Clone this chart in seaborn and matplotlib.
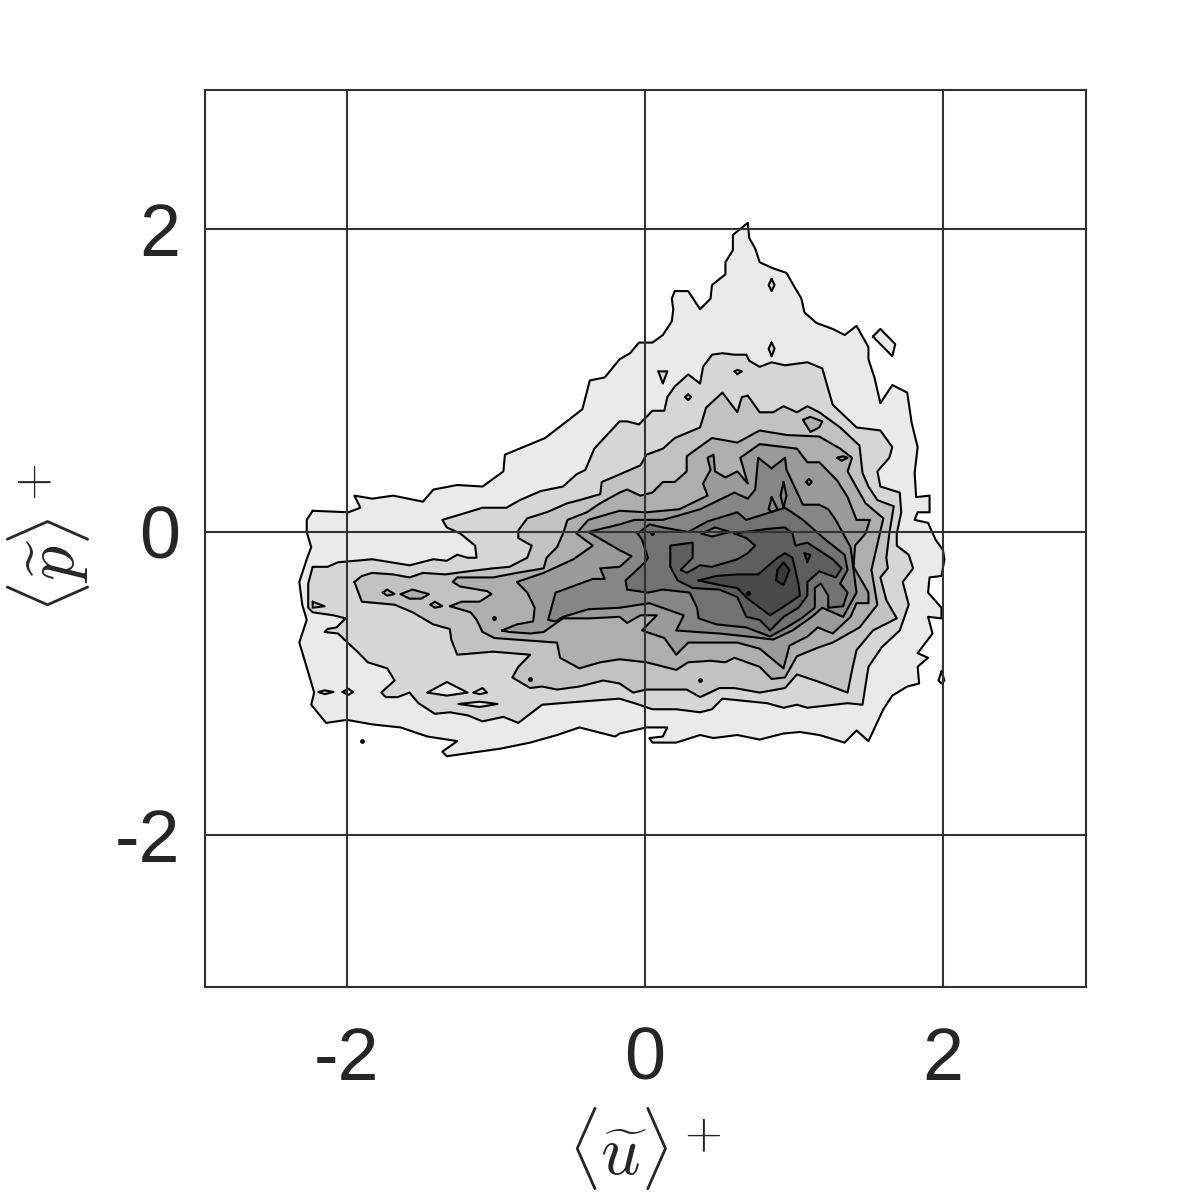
import numpy as np
import seaborn as sns
import matplotlib.pyplot as plt

# contour outlines, (u, p) pairs, outer level first
level1 = [(-2.23,.14),(-1.99,.13),(-1.91,.16),(-1.95,.24),(-1.83,.22),(-1.69,.24),(-1.49,.20),(-1.42,.28),(-1.26,.31),(-1.09,.30),(-.95,.40),(-.94,.51),(-.67,.62),(-.42,.81),(-.37,1.00),(-.27,1.02),(-.17,1.14),(-.10,1.18),(-.04,1.25),(.05,1.25),(.12,1.30),(.18,1.39),(.19,1.47),(.18,1.54),(.20,1.59),(.29,1.59),(.37,1.47),(.44,1.54),(.45,1.63),(.54,1.70),(.54,1.78),(.59,1.86),(.59,1.96),(.69,2.04),(.70,1.94),(.74,1.87),(.77,1.78),(.86,1.74),(.95,1.71),(.99,1.64),(1.05,1.54),(1.07,1.45),(1.15,1.38),(1.26,1.34),(1.34,1.30),(1.42,1.36),(1.50,1.22),(1.50,1.14),(1.54,1.02),(1.58,.85),(1.66,.97),(1.76,.92),(1.79,.72),(1.83,.56),(1.81,.39),(1.82,.23),(1.91,.24),(1.91,.13),(1.83,.13),(1.81,.08),(1.90,.06),(1.95,-.05),(2.00,-.12),(2.01,-.18),(1.99,-.29),(1.91,-.30),(1.90,-.40),(1.99,-.50),(1.99,-.57),(1.90,-.56),(1.93,-.67),(1.83,-.80),(1.90,-.83),(1.83,-.89),(1.84,-1.00),(1.76,-1.02),(1.66,-1.08),(1.60,-1.17),(1.50,-1.38),(1.42,-1.31),(1.34,-1.39),(1.17,-1.34),(1.04,-1.32),(.93,-1.33),(.77,-1.37),(.62,-1.34),(.46,-1.36),(.37,-1.34),(.21,-1.39),(.05,-1.39),(.03,-1.36),(.12,-1.35),(.15,-1.29),(.01,-1.29),(-.17,-1.33),(-.20,-1.35),(-.44,-1.29),(-.59,-1.34),(-.77,-1.39),(-.97,-1.43),(-1.33,-1.48),(-1.36,-1.45),(-1.26,-1.38),(-1.46,-1.35),(-1.52,-1.33),(-1.64,-1.29),(-1.83,-1.27),(-2.00,-1.24),(-2.14,-1.26),(-2.24,-1.14),(-2.22,-1.06),(-2.28,-.86),(-2.32,-.73),(-2.27,-.58),(-2.30,-.48),(-2.32,-.33),(-2.27,-.18),(-2.24,-.10),(-2.27,0),(-2.27,.08)]
level2 = [(-2.23,-.23),(-2.13,-.23),(-2.06,-.20),(-1.83,-.18),(-1.58,-.22),(-1.42,-.18),(-1.33,-.19),(-1.26,-.15),(-1.19,-.17),(-1.13,-.17),(-1.14,-.09),(-1.24,-.01),(-1.33,.03),(-1.36,.08),(-1.19,.13),(-1.09,.16),(-.93,.16),(-.84,.21),(-.70,.27),(-.55,.30),(-.46,.38),(-.40,.41),(-.34,.55),(-.17,.73),(-.12,.73),(-.04,.71),(.05,.80),(.13,.80),(.15,.89),(.20,.96),(.29,1.04),(.37,.98),(.39,1.09),(.45,1.17),(.52,1.18),(.60,1.17),(.68,1.17),(.70,1.13),(.77,1.09),(.85,1.12),(.94,1.10),(1.09,1.12),(1.19,1.08),(1.26,.84),(1.42,.69),(1.58,.67),(1.66,.56),(1.64,.49),(1.56,.40),(1.58,.30),(1.71,.26),(1.72,.13),(1.69,-.01),(1.69,-.09),(1.77,-.15),(1.80,-.24),(1.73,-.33),(1.77,-.48),(1.71,-.65),(1.59,-.76),(1.50,-.89),(1.46,-1.14),(1.36,-1.13),(1.09,-1.16),(1.02,-1.14),(.93,-1.16),(.82,-1.13),(.62,-1.11),(.52,-1.10),(.45,-1.17),(.37,-1.19),(.21,-1.17),(.05,-1.17),(-.07,-1.13),(-.17,-1.10),(-.44,-1.12),(-.69,-1.14),(-.85,-1.26),(-.95,-1.22),(-1.09,-1.25),(-1.19,-1.21),(-1.31,-1.19),(-1.41,-1.20),(-1.52,-1.13),(-1.58,-1.06),(-1.66,-1.09),(-1.74,-1.09),(-1.77,-1.06),(-1.68,-.98),(-1.73,-.90),(-1.86,-.86),(-1.93,-.79),(-2.06,-.67),(-2.15,-.66),(-2.13,-.64),(-2.07,-.63),(-2.01,-.57),(-2.09,-.55),(-2.23,-.53),(-2.26,-.50),(-2.26,-.34)]
level3 = [(-1.95,-.33),(-1.90,-.29),(-1.83,-.27),(-1.69,-.28),(-1.58,-.30),(-1.49,-.27),(-1.34,-.28),(-1.19,-.26),(-1.02,-.24),(-.91,-.23),(-.79,-.17),(-.76,-.09),(-.85,-.04),(-.85,.01),(-.79,.09),(-.66,.13),(-.52,.19),(-.44,.21),(-.30,.25),(-.29,.33),(-.17,.38),(-.03,.44),(.01,.51),(.12,.55),(.20,.62),(.37,.69),(.41,.82),(.52,.92),(.62,.79),(.65,.89),(.69,.90),(.77,.79),(.86,.79),(.93,.83),(1.02,.79),(1.09,.83),(1.17,.79),(1.31,.69),(1.44,.57),(1.46,.39),(1.50,.30),(1.56,.21),(1.67,.17),(1.64,-.01),(1.62,-.17),(1.63,-.24),(1.58,-.30),(1.62,-.45),(1.69,-.57),(1.53,-.65),(1.42,-.78),(1.39,-.91),(1.36,-1.06),(1.17,-.99),(1.02,-.94),(.94,-1.03),(.77,-1.06),(.60,-1.03),(.50,-1.03),(.37,-1.09),(.28,-1.04),(.12,-1.04),(.01,-1.04),(-.08,-1.06),(-.17,-1.00),(-.28,-.98),(-.44,-1.02),(-.59,-1.04),(-.69,-1.02),(-.77,-1.03),(-.89,-.96),(-.85,-.89),(-.77,-.81),(-1.02,-.79),(-1.26,-.81),(-1.30,-.71),(-1.31,-.64),(-1.42,-.61),(-1.56,-.53),(-1.68,-.48),(-1.90,-.46)]
level4 = [(-1.29,-.33),(-1.24,-.36),(-1.06,-.39),(-1.03,-.41),(-1.11,-.46),(-1.23,-.46),(-1.31,-.49),(-1.17,-.53),(-1.13,-.58),(-1.09,-.66),(-1.01,-.70),(-.59,-.73),(-.57,-.83),(-.44,-.90),(-.30,-.86),(-.17,-.84),(.01,-.86),(.21,-.91),(.29,-.86),(.44,-.85),(.54,-.86),(.60,-.83),(.77,-.89),(.85,-.97),(.94,-.96),(1.02,-.82),(1.17,-.76),(1.26,-.73),(1.44,-.63),(1.56,-.48),(1.52,-.25),(1.60,.09),(1.48,.19),(1.36,.40),(1.39,.49),(1.31,.55),(1.17,.63),(.95,.64),(.77,.67),(.62,.59),(.45,.62),(.28,.50),(.28,.40),(.20,.33),(.12,.33),(.05,.26),(-.03,.24),(-.12,.28),(-.17,.26),(-.30,.19),(-.39,.13),(-.52,.08),(-.55,-.01),(-.59,-.10),(-.66,-.17),(-.68,-.24),(-.86,-.27),(-1.02,-.30),(-1.26,-.30)]
level5 = [(-.96,-.65),(-.86,-.61),(-.75,-.59),(-.74,-.50),(-.79,-.40),(-.86,-.33),(-.68,-.27),(-.48,-.18),(-.35,-.09),(-.46,-.01),(-.38,.08),(-.17,.14),(.01,.13),(.23,.15),(.42,.24),(.39,.32),(.44,.41),(.42,.49),(.46,.51),(.47,.40),(.54,.36),(.62,.40),(.69,.32),(.64,.49),(.77,.58),(1.02,.55),(1.09,.46),(1.17,.46),(1.29,.34),(1.36,.23),(1.42,.08),(1.51,.08),(1.48,-.01),(1.41,-.09),(1.40,-.23),(1.50,-.40),(1.50,-.47),(1.42,-.47),(1.38,-.56),(1.26,-.67),(1.16,-.63),(1.09,-.69),(.97,-.75),(.93,-.90),(.77,-.77),(.62,-.73),(.46,-.73),(.29,-.73),(.21,-.81),(.13,-.70),(-.02,-.65),(.08,-.55),(-.03,-.55),(-.12,-.60),(-.17,-.56),(-.37,-.57),(-.55,-.57),(-.68,-.66),(-.77,-.67),(-.91,-.66)]
level6 = [(-.38,0),(-.17,.05),(-.07,.08),(.12,.08),(.23,.11),(.37,.15),(.60,.26),(.69,.22),(.74,.28),(.76,.49),(.85,.42),(.94,.49),(.95,.41),(1.06,.18),(1.17,.18),(1.23,.15),(1.28,.08),(1.38,-.10),(1.42,-.40),(1.33,-.56),(1.19,-.50),(1.12,-.56),(.99,-.65),(.86,-.71),(.69,-.69),(.50,-.67),(.35,-.66),(.21,-.65),(.26,-.55),(.03,-.47),(-.17,-.50),(-.38,-.51),(-.55,-.56),(-.60,-.59),(-.65,-.58),(-.60,-.40),(-.35,-.31),(-.27,-.31),(-.30,-.24),(-.17,-.23),(-.09,-.16),(-.17,-.12)]
level7 = [(-.05,-.01),(.03,.05),(.12,.03),(.29,0),(.42,.07),(.62,.13),(.68,.08),(.94,.16),(1.06,.08),(1.21,-.05),(1.34,-.15),(1.36,-.25),(1.31,-.34),(1.36,-.40),(1.33,-.49),(1.23,-.50),(1.23,-.42),(1.18,-.34),(1.14,-.37),(1.14,-.50),(1.05,-.57),(.95,-.63),(.84,-.69),(.68,-.63),(.48,-.61),(.36,-.57),(.35,-.50),(.30,-.40),(.12,-.38),(.02,-.40),(-.12,-.38),(-.13,-.32),(0,-.20),(.02,-.17),(-.02,-.05)]
level8 = [(.60,-.01),(.82,.02),(.94,.03),(.99,-.01),(1.01,-.09),(1.09,-.07),(1.26,-.18),(1.32,-.24),(1.28,-.30),(1.17,-.26),(1.09,-.33),(1.09,-.42),(1.03,-.50),(.93,-.56),(.84,-.65),(.77,-.58),(.68,-.56),(.62,-.43),(.50,-.38),(.32,-.37),(.22,-.32),(.17,-.23),(.17,-.09),(.32,-.07),(.32,-.17),(.24,-.25),(.28,-.27),(.37,-.22),(.45,-.23),(.62,-.18),(.69,-.14),(.74,-.09),(.68,-.04)]
level9 = [(.36,-.32),(.48,-.29),(.62,-.28),(.76,-.28),(.89,-.17),(.94,-.14),(.99,-.17),(1.03,-.34),(1.04,-.42),(.95,-.48),(.84,-.55),(.69,-.44),(.62,-.37),(.50,-.35)]
level10 = [(.89,-.25),(.93,-.20),(.97,-.25),(.93,-.35),(.88,-.32)]

# small closed patches beside the main outlines
patches1 = [
    [(1.53,1.29),(1.58,1.34),(1.68,1.24),(1.66,1.16)],
    [(1.99,-.92),(2.01,-.98),(1.99,-1.00),(1.97,-.98)],
    [(-2.19,-1.056),(-2.15,-1.045),(-2.09,-1.056),(-2.15,-1.07)],
    [(-2.03,-1.056),(-1.99,-1.035),(-1.96,-1.056),(-1.99,-1.075)],
]
patches2 = [
    [(.85,1.67),(.87,1.63),(.85,1.59),(.83,1.63)],
    [(.85,1.25),(.87,1.21),(.85,1.16),(.83,1.21)],
    [(.09,1.06),(.15,1.06),(.12,.98)],
]
holes2 = [
    [(-1.46,-1.06),(-1.33,-.99),(-1.19,-1.06),(-1.33,-1.08)],
    [(-1.15,-1.06),(-1.09,-1.03),(-1.06,-1.06),(-1.11,-1.07)],
    [(-1.25,-1.135),(-1.11,-1.12),(-.99,-1.135),(-1.11,-1.155)],
]
patches3 = [
    [(-2.23,-.46),(-2.15,-.49),(-2.23,-.50)],
    [(.27,.89),(.29,.91),(.31,.89),(.29,.87)],
    [(.60,1.06),(.62,1.07),(.65,1.06),(.62,1.04)],
]
patches4 = [
    [(-1.76,-.40),(-1.73,-.38),(-1.68,-.41),(-1.73,-.42)],
    [(-1.64,-.41),(-1.56,-.38),(-1.45,-.41),(-1.50,-.44),(-1.58,-.44)],
    [(-1.44,-.48),(-1.41,-.46),(-1.36,-.49),(-1.41,-.50)],
    [(1.06,.74),(1.11,.76),(1.19,.73),(1.17,.69),(1.11,.66)],
]
patches5 = [[(1.29,.49),(1.33,.50),(1.36,.49),(1.32,.47)]]
patches6 = [
    [(.85,.23),(.89,.15),(.85,.13),(.83,.15)],
    [(.93,.33),(.95,.24),(.93,.16),(.91,.24)],
    [(1.08,.33),(1.10,.35),(1.12,.33),(1.10,.31)],
]
holes7 = [[(.38,-.01),(.47,.03),(.57,0),(.45,-.03)]]
patches9 = [[(1.07,-.14),(1.11,-.15),(1.09,-.20)]]

dots_u = [-1.90, -.77, .37, -1.01, .05, .69]
dots_p = [-1.38, -.97, -.98, -.57, -.01, -.40]

tick_vals = [-2, 0, 2]
tick_labels = ['-2', '0', '2']
greys = ['#eaeaea', '#d6d6d6', '#c2c2c2', '#aeaeae', '#9a9a9a',
         '#868686', '#727272', '#5e5e5e', '#4a4a4a', '#3a3a3a']

sns.set_theme(style='white')
plt.rcParams['font.family'] = ['Liberation Sans', 'DejaVu Sans']
plt.rcParams['mathtext.fontset'] = 'cm'

fig = plt.figure(figsize=(12, 12), dpi=100)
ax = fig.add_axes([0.1708, 0.1775, 0.7342, 0.7475])


def draw_outline(pts, color):
    pts = np.array(pts + pts[:1])
    ax.fill(pts[:, 0], pts[:, 1], color=color, lw=0)
    sns.lineplot(x=pts[:, 0], y=pts[:, 1], sort=False, estimator=None,
                 color='black', lw=1.5, ax=ax)


# filled levels, lighter ones first so the darker ones lie on top
groups = [
    ([level1] + patches1, greys[0]),
    ([level2] + patches2, greys[1]),
    (holes2, greys[0]),
    ([level3] + patches3, greys[2]),
    ([level4] + patches4, greys[3]),
    ([level5] + patches5, greys[4]),
    ([level6] + patches6, greys[5]),
    ([level7], greys[6]),
    (holes7, greys[5]),
    ([level8], greys[7]),
    ([level9] + patches9, greys[8]),
    ([level10], greys[9]),
]
for outlines, color in groups:
    for pts in outlines:
        draw_outline(pts, color)

sns.scatterplot(x=dots_u, y=dots_p, s=12, color='black', linewidth=0, ax=ax)

ax.set_xlim(-2.953, 2.96)
ax.set_ylim(-3.003, 2.917)
ax.set_xticks(tick_vals)
ax.set_xticklabels(tick_labels)
ax.set_yticks(tick_vals)
ax.set_yticklabels(tick_labels)
ax.set_axisbelow(False)
ax.grid(True, color='#333333', lw=1.5)
ax.tick_params(length=0, labelsize=53, labelcolor='#262626')
ax.tick_params(axis='x', pad=28)
ax.tick_params(axis='y', pad=18)
for spine in ax.spines.values():
    spine.set_color('#303030')
    spine.set_linewidth(1.5)

ax.set_xlabel(r'$\langle\widetilde{u}\rangle^+$', fontsize=50, color='#262626')
ax.set_ylabel(r'$\langle\widetilde{p}\rangle^+$', fontsize=50, color='#262626')
ax.xaxis.set_label_coords(0.5, -0.132)
ax.yaxis.set_label_coords(-0.128, 0.5)

plt.savefig('out.png', dpi=100)
plt.close()
